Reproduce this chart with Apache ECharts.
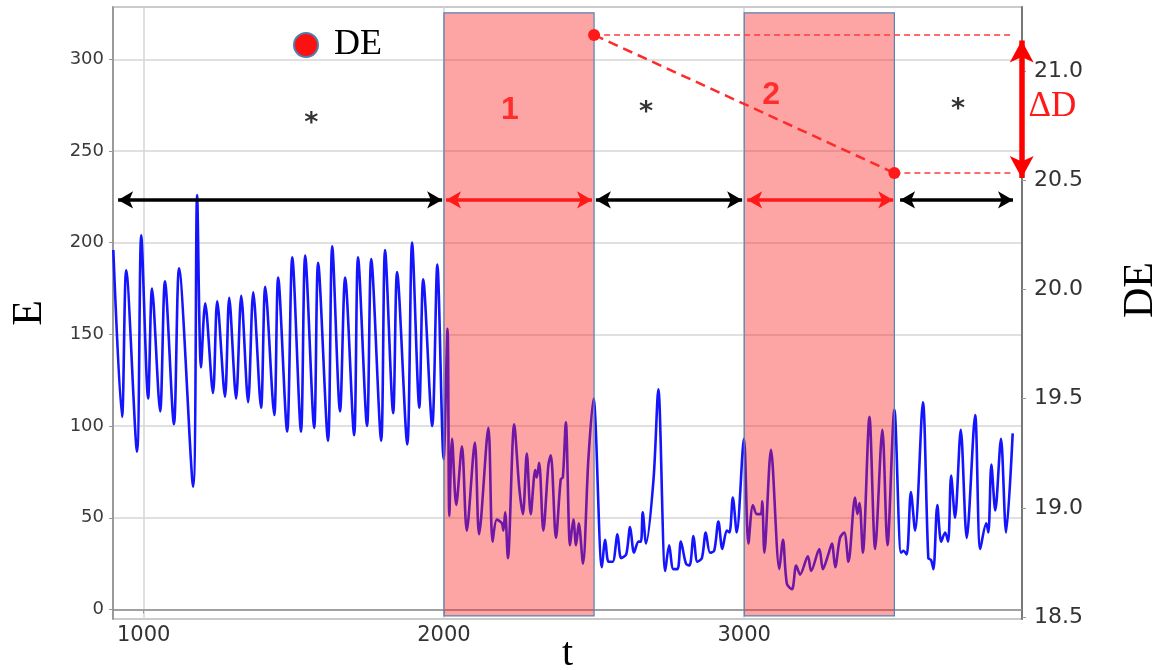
<!DOCTYPE html>
<html>
<head>
<meta charset="utf-8">
<script src="https://cdn.jsdelivr.net/npm/echarts@6/dist/echarts.min.js"></script>
<style>
html,body{margin:0;padding:0;background:#fff;}
#chart{width:1163px;height:670px;}
</style>
</head>
<body>
<div id="chart"></div>
<script>
// ---- data ----
const tValues = [899,928,942,978,992,1015,1028,1055,1071,1101,1118,1165,1178,1191,1205,1231,1245,1271,1285,1308,1325,1348,1365,1391,1405,1435,1448,1478,1495,1524,1538,1568,1581,1614,1628,1654,1671,1701,1714,1744,1758,1791,1804,1831,1844,1878,1894,1918,1931,1961,1978,1999,
2012,2018,2027,2041,2060,2076,2103,2117,2148,2162,2176,2193,2198,2204,2213,2234,2251,2263,2276,2289,2304,2309,2317,2331,2348,2356,2373,2389,2396,2406,2420,2431,2440,2449,2463,2481,2498,
2526,2537,2548,2562,2578,2590,2607,2620,2633,2648,2656,2662,2673,2698,2714,2737,2750,2764,2778,2789,2806,2818,2831,2844,2859,2872,2886,2900,2914,2927,2942,2951,2962,2975,2999,
3014,3029,3042,3055,3060,3067,3089,3117,3129,3142,3159,3173,3186,3212,3223,3250,3262,3280,3292,3303,3319,3333,3347,3369,3377,3384,3395,3417,3436,3460,3477,3500,
3522,3530,3541,3555,3569,3595,3613,3622,3630,3643,3656,3669,3679,3689,3702,3721,3741,3769,3786,3806,3813,3823,3836,3855,3872,3894];
const eValues = [196,105,185,86,204,115,175,108,179,101,186,67,226,132,167,118,168,116,170,115,171,113,173,110,176,106,181,97,192,97,193,99,189,92,198,108,181,95,192,100,191,92,196,107,184,90,200,110,180,100,188,82,
153,51,93,57,89,43,91,41,99,37,49,47,43,53,28,101,66,52,85,52,76,72,80,43,79,84,39,71,72,102,35,49,35,47,25,82,115,
23,38,26,26,41,28,30,45,31,37,37,53,36,71,120,21,35,22,22,37,25,24,40,26,28,42,31,32,48,33,43,42,61,42,93,
36,57,52,52,59,31,87,22,38,14,11,24,19,29,21,33,22,30,36,23,39,42,26,61,52,58,31,105,33,98,35,109,
31,32,30,64,43,113,28,27,22,57,37,42,37,73,50,98,39,106,33,47,42,79,54,93,42,96];

// DE points (t, DE)
const deT = [2500, 3500];
const deValues = [21.165, 20.533];
const deRefEndT = 3895;

// shaded intervals [tStart, tEnd] and vertical extent in E units
const shadeStart = [2000, 3000];
const shadeEnd = [2500, 3500];
const shadeBottom = -3.5;
const shadeTop = 325.3;

// interval arrows
const arrowStart = [915, 2007, 2506, 3010, 3519];
const arrowEnd   = [1994, 2493, 2993, 3496, 3895];
const arrowKind  = ['rest', 'stim', 'rest', 'stim', 'rest'];
const arrowLevel = 223.3;

// text marks
const markText = ['*', '1', '*', '2', '*'];
const markT = [1558, 2220, 2673, 3090, 3712];
const markE = [268.6, 272.4, 274.6, 280.6, 276.2];

// Delta D arrow
const deltaT = 3924;
const deltaTop = 21.14;
const deltaBottom = 20.51;
const deltaLabelT = 4026;
const deltaLabelV = 20.835;

// axes
const xMin = 898, xMax = 3925;
const eMin = -5.2, eMax = 328.5;
const dMin = 18.491, dMax = 21.293;

// ---- chart ----
const chart = echarts.init(document.getElementById('chart'), null, {renderer: 'canvas'});
const series = [];

series.push({
  name: 'E', type: 'line', xAxisIndex: 0, yAxisIndex: 0,
  data: tValues.map((t, i) => [t, eValues[i]]),
  showSymbol: false, symbol: 'none', smooth: 0.3,
  lineStyle: {color: '#1414ff', width: 2.6},
  z: 2, animation: false
});

series.push({
  name: 'shade', type: 'custom', xAxisIndex: 0, yAxisIndex: 0,
  data: shadeStart.map((s, i) => [s, shadeEnd[i], shadeBottom, shadeTop]),
  encode: {x: [0, 1], y: [2, 3]},
  clip: false,
  renderItem: function (params, api) {
    const p0 = api.coord([api.value(0), api.value(3)]);
    const p1 = api.coord([api.value(1), api.value(2)]);
    return {
      type: 'rect',
      shape: {x: p0[0], y: p0[1], width: p1[0] - p0[0], height: p1[1] - p0[1]},
      style: {fill: 'rgba(250,30,30,0.4)', stroke: '#5583b3', lineWidth: 1.2}
    };
  },
  z: 3, silent: true, animation: false
});

series.push({
  name: 'arrows', type: 'line', xAxisIndex: 0, yAxisIndex: 0, data: [],
  clip: false, z: 5, animation: false,
  markLine: {
    silent: true, animation: false,
    symbol: ['arrow', 'arrow'], symbolSize: [13, 15],
    label: {show: false},
    data: arrowStart.map((s, i) => [
      {coord: [s, arrowLevel], lineStyle: {color: arrowKind[i] === 'rest' ? '#000000' : '#ff1a1a', width: 3.5, type: 'solid'}},
      {coord: [arrowEnd[i], arrowLevel]}
    ])
  }
});

series.push({
  name: 'delta', type: 'line', xAxisIndex: 0, yAxisIndex: 1, data: [],
  clip: false, z: 6, animation: false,
  markLine: {
    silent: true, animation: false,
    symbol: ['arrow', 'arrow'], symbolSize: [18, 22],
    label: {show: false},
    data: [[
      {coord: [deltaT, deltaTop], lineStyle: {color: '#ff0000', width: 5.5, type: 'solid'}},
      {coord: [deltaT, deltaBottom]}
    ]]
  }
});

deT.forEach((t, i) => {
  series.push({
    name: 'ref' + i, type: 'line', xAxisIndex: 0, yAxisIndex: 1,
    data: [[t, deValues[i]], [deRefEndT, deValues[i]]],
    symbol: 'none', lineStyle: {color: '#ff3b3b', width: 1.5, type: [6, 4]},
    z: 5, animation: false, silent: true
  });
});

series.push({
  name: 'DE', type: 'line', xAxisIndex: 0, yAxisIndex: 1,
  data: deT.map((t, i) => [t, deValues[i]]),
  symbol: 'circle', symbolSize: 12, showSymbol: true,
  itemStyle: {color: '#ff1a1a'},
  lineStyle: {color: '#ff2a2a', width: 2.5, type: [10, 6]},
  z: 7, animation: false, silent: true
});

series.push({
  name: 'marks', type: 'scatter', xAxisIndex: 0, yAxisIndex: 0,
  symbolSize: 1, itemStyle: {color: 'rgba(0,0,0,0)'}, z: 8, animation: false, silent: true,
  data: markText.map((s, i) => ({
    value: [markT[i], markE[i]], name: s,
    label: s === '*'
      ? {color: '#000', fontSize: 27, fontWeight: 'bold', fontFamily: 'DejaVu Sans', offset: [0, 7]}
      : {color: '#ff1010', fontSize: 32, fontWeight: 'bold', fontFamily: 'Liberation Sans'}
  })),
  label: {show: true, position: 'inside', formatter: p => p.name}
});

const gridColor = '#d6d6d6';
chart.setOption({
  animation: false,
  backgroundColor: '#ffffff',
  grid: {left: 113, right: 141, top: 7, bottom: 51, show: true, borderColor: '#8a8a8a', borderWidth: 1.5,
    containLabel: false, outerBoundsMode: 'none'},
  legend: {
    data: [{name: 'DE', icon: 'circle'}],
    left: 288, top: 22, itemWidth: 46, itemHeight: 24,
    itemStyle: {color: '#ff1010', borderColor: '#4f7fb0', borderWidth: 2},
    textStyle: {fontFamily: 'Liberation Serif', fontSize: 36, color: '#000'}
  },
  xAxis: {
    type: 'value', min: xMin, max: xMax, splitNumber: 3, minInterval: 1000, maxInterval: 1000,
    axisLine: {show: true, lineStyle: {color: '#8a8a8a', width: 1.5}},
    axisTick: {show: true, length: 4, lineStyle: {color: '#999'}},
    axisLabel: {showMinLabel: false, showMaxLabel: false, fontSize: 21, color: '#333', fontFamily: 'DejaVu Sans', margin: 6,
      formatter: v => String(Math.round(v))},
    splitLine: {show: true, lineStyle: {color: gridColor, width: 1.5}},
    name: 't', nameLocation: 'middle', nameGap: 15, nameMoveOverlap: false,
    nameTextStyle: {fontFamily: 'Liberation Serif', fontSize: 40, color: '#000'}
  },
  yAxis: [{
    type: 'value', min: eMin, max: eMax, minInterval: 50, maxInterval: 50,
    axisLine: {show: true, lineStyle: {color: '#8a8a8a', width: 1.5}},
    axisTick: {show: true, length: 4, lineStyle: {color: '#999'}},
    axisLabel: {showMinLabel: false, showMaxLabel: false, fontSize: 18, color: '#3a3a3a', fontFamily: 'DejaVu Sans', margin: 9},
    splitLine: {show: true, lineStyle: {color: gridColor, width: 1.5}},
    name: 'E', nameLocation: 'middle', nameRotate: 90, nameGap: 62, nameMoveOverlap: false,
    nameTextStyle: {fontFamily: 'Liberation Serif', fontSize: 42, color: '#000'}
  }, {
    type: 'value', position: 'right', min: dMin, max: dMax, minInterval: 0.5, maxInterval: 0.5,
    axisLine: {show: true, lineStyle: {color: '#777', width: 2}},
    axisTick: {show: true, length: 4, lineStyle: {color: '#999'}},
    axisLabel: {showMinLabel: false, showMaxLabel: false, fontSize: 22, color: '#333', fontFamily: 'DejaVu Sans', margin: 12,
      formatter: v => v.toFixed(1)},
    splitLine: {show: false},
    name: 'DE', nameLocation: 'middle', nameRotate: 90, nameGap: 98, nameMoveOverlap: false,
    nameTextStyle: {fontFamily: 'Liberation Serif', fontSize: 42, color: '#000', padding: [0, 0, 0, 46]}
  }],
  series: series
});

// ΔD label placed through the axis scales
const dPos = chart.convertToPixel({xAxisIndex: 0, yAxisIndex: 1}, [deltaLabelT, deltaLabelV]);
chart.setOption({
  graphic: [{
    type: 'text', x: dPos[0], y: dPos[1], silent: true, z: 10,
    style: {text: 'ΔD', fill: '#ff1a1a', font: '35px "Liberation Serif"', align: 'center', verticalAlign: 'middle'}
  }]
});
</script>
</body>
</html>
